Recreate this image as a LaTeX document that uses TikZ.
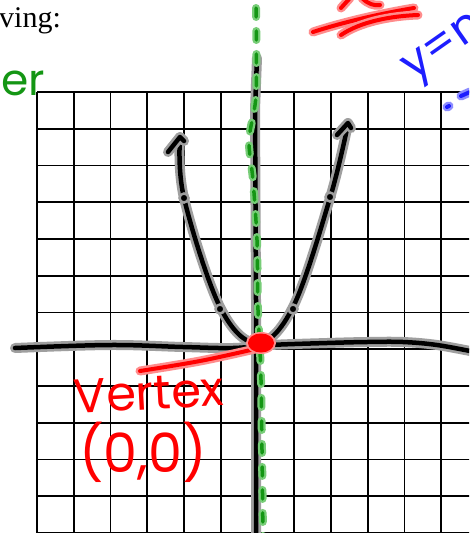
\documentclass[tikz,border=0pt]{standalone}
\usepackage{fontspec}
\setmainfont{Liberation Serif}
\newfontfamily\hand{Poppins}
\definecolor{hgreen}{RGB}{20,150,20}
\definecolor{hgreenlt}{RGB}{120,205,120}
\definecolor{hred}{RGB}{255,0,0}
\definecolor{hredlt}{RGB}{255,140,140}
\definecolor{hblue}{RGB}{30,30,255}
\definecolor{hbluelt}{RGB}{140,140,255}
\tikzset{
  gridline/.style={line width=1.7pt, black},
  blk/.style={line width=4.5pt, black, line cap=round, line join=round,
    preaction={draw=gray!75, line width=10pt, line cap=round, line join=round}},
  redpen/.style={line width=4pt, hred, line cap=round, line join=round,
    preaction={draw=hredlt, line width=9pt, line cap=round, line join=round}},
  bluepen/.style={line width=4pt, hblue, line cap=round, line join=round,
    preaction={draw=hbluelt, line width=9pt, line cap=round, line join=round}},
  greendash/.style={line width=3.5pt, hgreen, line cap=round, dash pattern=on 9pt off 14pt,
    preaction={draw=hgreenlt, line width=8pt, line cap=round, dash pattern=on 9pt off 14pt}},
  ptdot/.style={fill=black, draw=gray!75, line width=2.5pt},
  handtxt/.style={font=\hand\fontsize{48}{48}\selectfont, inner sep=0pt},
}
\begin{document}
\begin{tikzpicture}[x=1pt,y=-1pt]
\useasboundingbox (0,0) rectangle (469,533);
\clip (0,0) rectangle (469,533);
\fill[white] (0,0) rectangle (469,533);
% printed text
\node[anchor=base west, inner sep=0pt, font=\fontsize{30}{30}\selectfont] (txt) at (-1,27) {ving:};
% grid
\foreach \i in {0,...,12} {
  \draw[gridline] ({37+36.75*\i},92) -- ({37+36.75*\i},534);
}
\foreach \j in {0,...,12} {
  \draw[gridline] (37,{92+36.75*\j}) -- (480,{92+36.75*\j});
}
% axes
\draw[blk] plot[smooth, tension=0.6] coordinates {(15,348) (110,345) (183,347) (233,348) (270,345) (327,343) (367,342) (403,342) (437,345) (475,352)};
\draw[blk] (257,58) -- (255,110) -- (256,300) -- (256,540);
% axis of symmetry
\draw[greendash] plot[smooth, tension=0.5] coordinates {(256,8) (256,95) (249,140) (253,180) (257,240) (258,310) (261,380) (263,540)};
% parabola
\draw[blk] plot[smooth, tension=0.6] coordinates {(180,137) (184,198) (220,307) (257,343) (293,307) (330,198) (348,124)};
\draw[blk] (168,152) -- (180,137) -- (184,141);
\draw[blk] (337,135) -- (348,123) -- (351,128);
\foreach \p in {(184,198),(330,197),(220,309),(293,309)} {
  \filldraw[ptdot] \p circle (4.5pt);
}
% vertex
\draw[redpen] plot[smooth, tension=0.6] coordinates {(255,349) (200,361) (140,371)};
\fill[hredlt] (261,343) ellipse (15pt and 11pt);
\fill[hred] (261,343) ellipse (13pt and 9.5pt);
\node[handtxt, text=hred, anchor=center, rotate=3] (vtx) at (149,393) {Vertex};
\node[handtxt, text=hred, anchor=center, font=\hand\fontsize{54}{54}\selectfont] (zero) at (143,452) {(0,0)};
% green label
\node[handtxt, text=hgreen, anchor=base west, font=\hand\fontsize{44}{44}\selectfont] (er) at (1,95) {er};
% red top strokes
\draw[redpen] (313,32) .. controls (350,20) and (390,12) .. (414,8);
\draw[redpen] (341,35) .. controls (360,22) and (390,16) .. (418,15);
\draw[redpen] (341,8) -- (350,-2);
\draw[redpen] (362,-2) .. controls (368,4) and (374,6) .. (380,5);
% blue label
\node[handtxt, text=hblue, anchor=center, rotate=35, font=\hand\fontsize{46}{46}\selectfont] (yeq) at (446,50) {y=n};
\draw[bluepen] (447,107) -- (449,106);
\draw[bluepen] (461,96) -- (470,92);
\end{tikzpicture}
\end{document}
